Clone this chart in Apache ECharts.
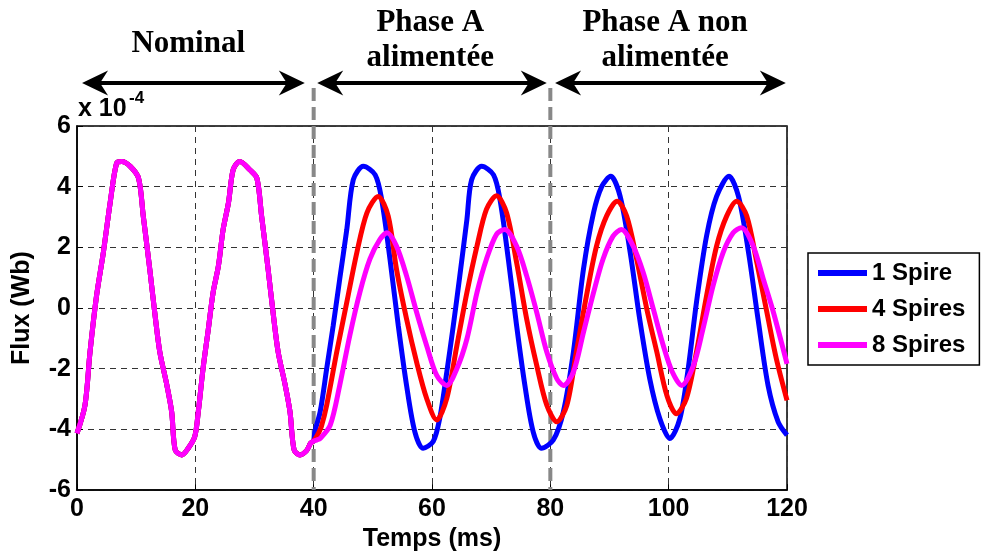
<!DOCTYPE html>
<html><head><meta charset="utf-8">
<script src="https://cdn.jsdelivr.net/npm/echarts@6/dist/echarts.min.js"></script>
<style>html,body{margin:0;padding:0;background:#fff}#c{width:981px;height:557px}</style>
</head><body><div id="c"></div>
<script>
const seriesNames = ['1 Spire', '4 Spires', '8 Spires'];
const seriesColors = ['#0000ff', '#ff0000', '#ff00ff'];

// Nominal region (0-40 ms), common to all three windings
const tNominal = [0, 1.35, 2.2, 3.3, 4.45, 5.6, 6.7, 7.55, 9.0, 10.4, 11.2, 12.3, 13.2, 14.0, 15.2, 16.0, 16.6, 17.7, 18.8, 19.9, 20.5, 21.3, 22.2, 23.0, 23.9, 24.7, 25.6, 26.4, 27.5, 29.2, 30.4, 31.2, 32.3, 33.2, 34.0, 35.2, 36.0, 36.7, 37.7, 38.8, 39.5, 40.0];
const fluxNominal = [-4.13, -3.2, -1.45, 0.4, 1.83, 3.47, 4.78, 4.83, 4.67, 4.28, 3.03, 1.28, -0.25, -1.45, -2.55, -3.42, -4.68, -4.84, -4.62, -4.24, -3.42, -2.0, -0.69, 0.51, 1.39, 2.59, 3.47, 4.56, 4.83, 4.56, 4.28, 3.03, 1.28, -0.25, -1.45, -2.55, -3.42, -4.68, -4.84, -4.7, -4.45, -4.38];

// 1 Spire after 40 ms
const t1Spire = [40.2, 41.1, 42.2, 43.3, 44.4, 45.6, 46.7, 48.4, 50.4, 51.5, 52.9, 54.3, 55.7, 57.1, 58.5, 60.2, 61.3, 62.5, 63.6, 64.7, 65.9, 66.7, 68.4, 70.4, 71.5, 72.9, 74.3, 75.7, 77.1, 78.5, 80.5, 82.2, 83.9, 85.6, 87.3, 88.7, 90.2, 91.8, 93.5, 95.1, 96.8, 98.5, 100.2, 101.9, 103.3, 104.7, 106.4, 108.1, 110.2, 111.8, 113.5, 115.1, 116.8, 118.5, 120];
const flux1Spire = [-4.07, -3.42, -2.0, -0.58, 0.95, 2.59, 4.23, 4.67, 4.39, 3.57, 1.61, -0.58, -2.55, -4.08, -4.62, -4.40, -3.64, -2.11, -0.58, 1.06, 2.92, 4.23, 4.67, 4.39, 3.57, 1.61, -0.58, -2.55, -4.08, -4.62, -4.35, -3.42, -1.45, 1.28, 3.14, 4.01, 4.34, 3.68, 1.83, -0.36, -2.33, -3.64, -4.30, -3.64, -2.0, 0.19, 2.37, 3.68, 4.34, 3.68, 1.83, -0.36, -2.55, -3.75, -4.19];

// 4 Spires after 40 ms
const t4Spires = [40.6, 41.3, 42.2, 43.9, 45.6, 47.3, 49.0, 50.9, 52.6, 54.0, 55.7, 57.4, 59.1, 60.8, 62.5, 64.2, 65.9, 67.6, 69.2, 70.9, 72.6, 74.3, 76.0, 77.7, 79.4, 81.1, 82.8, 84.4, 86.1, 87.8, 89.5, 91.3, 92.9, 94.6, 96.3, 98.0, 99.7, 101.3, 103.0, 104.7, 106.4, 108.1, 109.8, 111.5, 113.2, 114.9, 116.6, 118.2, 120];
const flux4Spires = [-4.2, -3.9, -3.2, -1.45, 0.19, 1.83, 3.14, 3.68, 3.03, 1.28, -0.36, -1.78, -2.98, -3.69, -2.98, -1.24, 0.51, 2.04, 3.25, 3.70, 3.14, 1.5, -0.36, -1.89, -3.2, -3.75, -3.2, -1.45, 0.4, 2.04, 3.03, 3.52, 3.03, 1.61, -0.03, -1.45, -2.88, -3.48, -2.98, -1.45, 0.4, 2.04, 3.03, 3.52, 3.03, 1.5, -0.14, -1.67, -3.04];

// 8 Spires after 40 ms
const t8Spires = [40.5, 41.1, 42.8, 44.4, 46.1, 47.8, 49.5, 51.2, 52.4, 54.0, 55.7, 57.4, 59.1, 60.8, 62.5, 64.2, 65.9, 67.6, 69.2, 70.9, 72.3, 74.3, 76.0, 77.7, 79.4, 81.1, 82.2, 83.9, 85.6, 87.3, 88.9, 90.6, 92.0, 94.0, 95.7, 97.4, 99.1, 100.6, 102.2, 104.2, 105.8, 107.5, 109.2, 110.9, 112.3, 114.3, 116.0, 117.7, 120];
const flux8Spires = [-4.35, -4.30, -3.86, -2.55, -0.91, 0.51, 1.61, 2.26, 2.48, 2.04, 1.06, -0.14, -1.24, -2.22, -2.55, -2.0, -1.02, 0.51, 1.61, 2.43, 2.59, 2.04, 1.06, -0.14, -1.45, -2.33, -2.55, -2.11, -0.80, 0.51, 1.61, 2.37, 2.59, 2.04, 1.17, -0.03, -1.24, -2.1, -2.55, -1.89, -0.69, 0.73, 1.83, 2.48, 2.65, 2.04, 0.95, -0.14, -1.84];

const phaseLabels = ['Nominal', 'Phase A\nalimentée', 'Phase A non\nalimentée'];
const phaseBoundaries = [40, 80];
const arrowRanges = [[0.85, 38.5], [40.6, 79.4], [80.8, 119.8]];
const labelCenters = [18.8, 59.7, 99.4];

function pairs(ts, vs) { return ts.map((t, i) => [t, vs[i]]); }
const seriesData = [
  pairs(tNominal, fluxNominal).concat(pairs(t1Spire, flux1Spire)),
  pairs(tNominal, fluxNominal).concat(pairs(t4Spires, flux4Spires)),
  pairs(tNominal, fluxNominal).concat(pairs(t8Spires, flux8Spires))
];

const sansBold = { fontFamily: 'Liberation Sans', fontWeight: 'bold', color: '#000' };

const chart = echarts.init(document.getElementById('c'), null, { renderer: 'canvas' });
const option = {
  animation: false,
  backgroundColor: '#fff',
  grid: { left: 77, top: 126, right: 194, bottom: 65, show: true, borderColor: '#000', borderWidth: 1.5, backgroundColor: 'transparent' },
  xAxis: {
    type: 'value', min: 0, max: 120, interval: 20,
    name: 'Temps (ms)', nameLocation: 'middle', nameGap: 36,
    nameTextStyle: Object.assign({ fontSize: 25 }, sansBold),
    axisLine: { onZero: false, lineStyle: { color: '#000', width: 1.5 } },
    axisTick: { inside: true, length: 6, lineStyle: { color: '#000' } },
    axisLabel: Object.assign({ fontSize: 25, margin: 7 }, sansBold),
    splitLine: { show: true, lineStyle: { color: '#333', width: 1, type: [6, 5] } }
  },
  yAxis: {
    type: 'value', min: -6, max: 6, interval: 2,
    name: 'Flux (Wb)', nameLocation: 'middle', nameGap: 42,
    nameTextStyle: Object.assign({ fontSize: 25 }, sansBold),
    axisLine: { show: true, onZero: false, lineStyle: { color: '#000', width: 1.5 } },
    axisTick: { show: true, inside: true, length: 6, lineStyle: { color: '#000' } },
    axisLabel: Object.assign({ fontSize: 25, margin: 6 }, sansBold),
    splitLine: { show: true, lineStyle: { color: '#333', width: 1, type: [6, 5] } }
  },
  legend: {
    orient: 'vertical', left: 808, top: 253,
    padding: [7, 14, 7, 10], itemGap: 10,
    itemWidth: 49, itemHeight: 6, icon: 'rect',
    borderColor: '#000', borderWidth: 1.5, backgroundColor: '#fff',
    textStyle: Object.assign({ fontSize: 24, lineHeight: 26 }, sansBold),
    data: seriesNames
  },
  series: seriesNames.map((n, i) => ({
    name: n, type: 'line', data: seriesData[i], showSymbol: false, smooth: 0.3,
    lineStyle: { color: seriesColors[i], width: 5 }, itemStyle: { color: seriesColors[i] },
    z: 3 + i
  }))
};
chart.setOption(option);

const px = t => chart.convertToPixel({ xAxisIndex: 0 }, t);
const yBottom = chart.convertToPixel({ yAxisIndex: 0 }, -6);
const arrowY = 83;
const g = [];
phaseBoundaries.forEach(t => {
  const x = px(t);
  g.push({ type: 'line', z: 1, shape: { x1: x, y1: 88, x2: x, y2: yBottom }, style: { stroke: '#888', lineWidth: 4, lineDash: [13, 6] } });
});
arrowRanges.forEach(([a, b]) => {
  const x1 = px(a), x2 = px(b);
  g.push({ type: 'line', z: 50, shape: { x1: x1 + 12, y1: arrowY, x2: x2 - 12, y2: arrowY }, style: { stroke: '#000', lineWidth: 4 } });
  g.push({ type: 'polygon', z: 50, shape: { points: [[x1, arrowY], [x1 + 26, arrowY - 12.5], [x1 + 18, arrowY], [x1 + 26, arrowY + 12.5]] }, style: { fill: '#000' } });
  g.push({ type: 'polygon', z: 50, shape: { points: [[x2, arrowY], [x2 - 26, arrowY - 12.5], [x2 - 18, arrowY], [x2 - 26, arrowY + 12.5]] }, style: { fill: '#000' } });
});
phaseLabels.forEach((txt, i) => {
  const single = txt.indexOf('\n') < 0;
  g.push({ type: 'text', z: 50, x: px(labelCenters[i]), y: single ? 44 : 40.5,
    style: { text: txt, fontFamily: 'Liberation Serif', fontWeight: 'bold', fontSize: 31, lineHeight: 35, align: 'center', verticalAlign: 'middle', fill: '#000' } });
});
g.push({ type: 'text', z: 50, x: 78, y: 109, style: { text: 'x 10', fontFamily: 'Liberation Sans', fontWeight: 'bold', fontSize: 25, align: 'left', verticalAlign: 'middle', fill: '#000' } });
g.push({ type: 'text', z: 50, x: 129, y: 98, style: { text: '-4', fontFamily: 'Liberation Sans', fontWeight: 'bold', fontSize: 17, align: 'left', verticalAlign: 'middle', fill: '#000' } });
chart.setOption({ graphic: g });
</script>
</body></html>
